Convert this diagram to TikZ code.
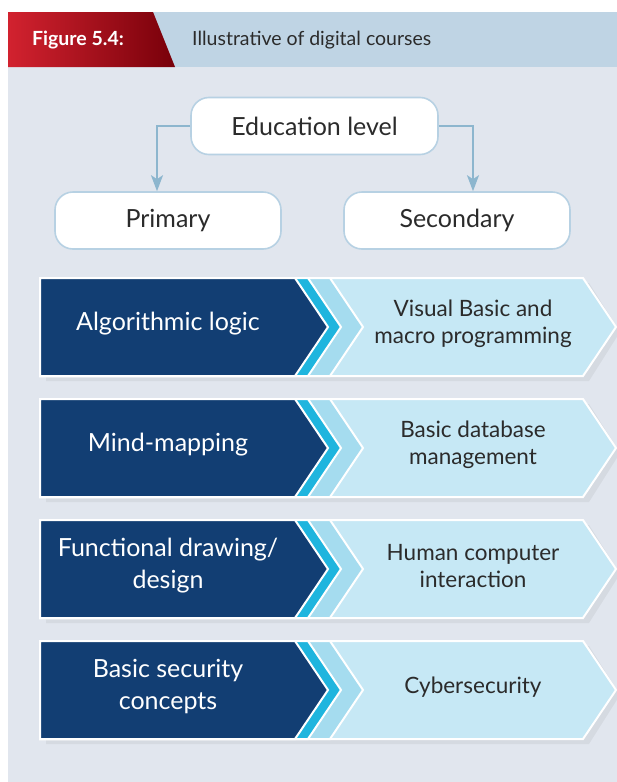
\documentclass[tikz,border=0pt]{standalone}
\usepackage{fontspec}
\setmainfont{Lato}
\usetikzlibrary{positioning,arrows.meta,calc}
\definecolor{panelbg}{HTML}{E1E6EE}
\definecolor{headblue}{HTML}{BFD4E4}
\definecolor{figred}{HTML}{D2222F}
\definecolor{figdark}{HTML}{78000A}
\definecolor{navy}{HTML}{123E73}
\definecolor{cyanstripe}{HTML}{1FB5DE}
\definecolor{palestripe}{HTML}{A5DCEF}
\definecolor{palepanel}{HTML}{C6E8F5}
\definecolor{boxline}{HTML}{B7D1E3}
\definecolor{arrowline}{HTML}{8DB6CE}
\definecolor{inkgray}{HTML}{2B2B2B}

\tikzset{
  levelbox/.style={draw=boxline, line width=1.6pt, fill=white, rounded corners=18pt,
    minimum height=57pt, font=\fontsize{25}{30}\selectfont, text=inkgray},
  branch/.style={arrowline, line width=2pt, -{Stealth[width=12pt,length=16pt,inset=4pt]}},
  piece/.style={draw=white, line width=2pt},
  lefttext/.style={text=white, align=center, font=\fontsize{25}{32}\selectfont},
  righttext/.style={text=inkgray, align=center, font=\fontsize{22.5}{27}\selectfont}
}

\begin{document}
\begin{tikzpicture}[x=1pt, y=-1pt]
  \useasboundingbox (0,0) rectangle (617,782);
  % panel and header
  \fill[panelbg] (8,12) rectangle (617,782);
  \fill[headblue] (8,12) rectangle (617,67);
  \shade[left color=figred, right color=figdark] (8,12) -- (153,12) -- (175,67) -- (8,67) -- cycle;
  \node[text=white, font=\bfseries\fontsize{19.5}{22}\selectfont] (fig) at (78,40) {Figure 5.4:};
  \node[anchor=west, text=inkgray, font=\fontsize{19.5}{22}\selectfont, inner sep=0pt] (ttl) at (192,40) {Illustrative of digital courses};

  % education level tree
  \node[levelbox, minimum width=247pt] (edu) at (314.5,126) {Education level};
  \node[levelbox, minimum width=226pt] (pri) at (168,220.5) {Primary};
  \node[levelbox, minimum width=226pt] (sec) at (457,220.5) {Secondary};
  \draw[branch] (edu.west) -| ([xshift=-11pt]pri.north);
  \draw[branch] (edu.east) -| ([xshift=16pt]sec.north);

  % course rows
  \foreach \i/\l/\r [count=\n] in {
      0/{Algorithmic logic}/{Visual Basic and\\macro programming},
      1/{Mind-mapping}/{Basic database\\management},
      2/{Functional drawing/\\design}/{Human computer\\interaction},
      3/{Basic security\\concepts}/{Cybersecurity}}{
    \pgfmathsetmacro{\t}{278+121*\i}
    \pgfmathsetmacro{\m}{\t+49}
    \pgfmathsetmacro{\b}{\t+98}
    \fill[black, opacity=0.05] (46,\t+5) -- (589,\t+5) -- (620,\m+5) -- (589,\b+5) -- (46,\b+5) -- cycle;
    \draw[piece, fill=palepanel] (40,\t) -- (583,\t) -- (616,\m) -- (583,\b) -- (40,\b) -- cycle;
    \draw[piece, fill=palestripe] (40,\t) -- (330,\t) -- (363,\m) -- (330,\b) -- (40,\b) -- cycle;
    \draw[piece, fill=cyanstripe] (40,\t) -- (308,\t) -- (341,\m) -- (308,\b) -- (40,\b) -- cycle;
    \draw[piece, fill=navy] (40,\t) -- (295,\t) -- (328,\m) -- (295,\b) -- (40,\b) -- cycle;
    \node[lefttext] (p\n) at (168,\m-3) {\l};
    \node[righttext] (s\n) at (473,\m-3) {\r};
  }
\end{tikzpicture}
\end{document}
